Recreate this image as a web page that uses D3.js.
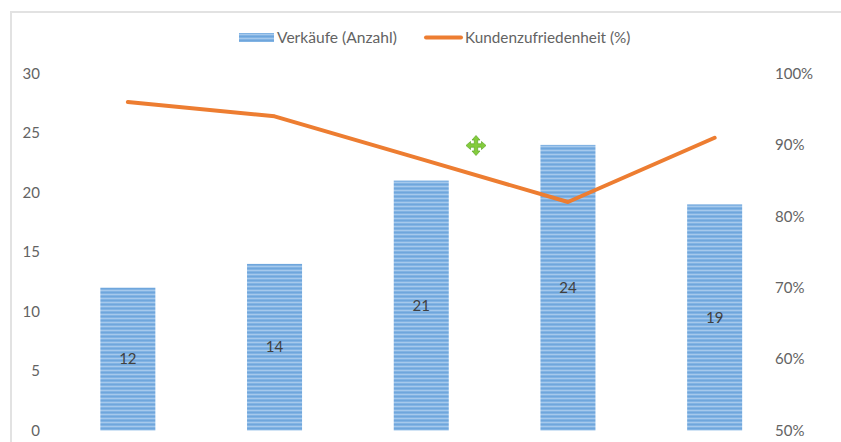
<!DOCTYPE html>
<html>
<head>
<meta charset="utf-8">
<title>Verkäufe und Kundenzufriedenheit</title>
<script src="https://d3js.org/d3.v7.min.js"></script>
<style>
  html, body { margin: 0; padding: 0; background: #fff; overflow: hidden; }
  text { font-family: Lato, "Open Sans", sans-serif; fill: #636363; }
</style>
</head>
<body>
<script>
var categories = ["A", "B", "C", "D", "E"];
var verkaeufe = [12, 14, 21, 24, 19];
var zufriedenheit = [96, 94, 88, 82, 91];
var leftTicks = [0, 5, 10, 15, 20, 25, 30];
var rightTicks = [50, 60, 70, 80, 90, 100];

var width = 841, height = 442;
var plot = {top: 73.5, bottom: 430.5, left: 54.5, right: 788};

var svg = d3.select("body").append("svg")
    .attr("width", width)
    .attr("height", height);

// striped fill of the bars
var pattern = svg.append("defs").append("pattern")
    .attr("id", "stripes")
    .attr("patternUnits", "userSpaceOnUse")
    .attr("width", 8)
    .attr("height", 4);
pattern.append("rect").attr("width", 8).attr("height", 4).attr("fill", "#82b3e3");
pattern.append("rect").attr("y", 0).attr("width", 8).attr("height", 1).attr("fill", "#6fa6dc");
pattern.append("rect").attr("y", 2).attr("width", 8).attr("height", 1).attr("fill", "#a6c9ec");

// chart frame, only top and left show in the crop
svg.append("path")
    .attr("d", "M11,442V12H841")
    .attr("fill", "none")
    .attr("stroke", "#e2e2e2")
    .attr("stroke-width", 2);

var x = d3.scaleBand().domain(categories).range([plot.left, plot.right]).paddingInner(0.625).paddingOuter(0.3125);
var yLeft = d3.scaleLinear().domain([0, 30]).range([plot.bottom, plot.top]);
var yRight = d3.scaleLinear().domain([50, 100]).range([plot.bottom, plot.top]);

var leftAxis = d3.axisLeft(yLeft).tickValues(leftTicks).tickSize(0).tickPadding(0);
var rightAxis = d3.axisRight(yRight).tickValues(rightTicks).tickSize(0).tickPadding(0)
    .tickFormat(function(d) { return d + "%"; });

var gLeft = svg.append("g").attr("transform", "translate(40,0)").call(leftAxis);
var gRight = svg.append("g").attr("transform", "translate(775,0)").call(rightAxis);
gLeft.select(".domain").remove();
gRight.select(".domain").remove();
svg.selectAll(".tick text").style("font-size", "15px").attr("font-family", null);

svg.selectAll(".bar")
    .data(verkaeufe)
    .enter().append("rect")
    .attr("class", "bar")
    .attr("x", function(d, i) { return x(categories[i]); })
    .attr("width", x.bandwidth())
    .attr("y", function(d) { return yLeft(d); })
    .attr("height", function(d) { return plot.bottom - yLeft(d); })
    .attr("fill", "url(#stripes)");

svg.selectAll(".bar-label")
    .data(verkaeufe)
    .enter().append("text")
    .attr("class", "bar-label")
    .attr("x", function(d, i) { return x(categories[i]) + x.bandwidth() / 2; })
    .attr("y", function(d) { return yLeft(d / 2); })
    .attr("dy", "0.35em")
    .attr("text-anchor", "middle")
    .style("font-size", "15px")
    .style("fill", "#404040")
    .text(function(d) { return d; });

var line = d3.line()
    .x(function(d, i) { return x(categories[i]) + x.bandwidth() / 2; })
    .y(function(d) { return yRight(d); });

svg.append("path")
    .datum(zufriedenheit)
    .attr("d", line)
    .attr("fill", "none")
    .attr("stroke", "#ed7d31")
    .attr("stroke-width", 4)
    .attr("stroke-linecap", "round")
    .attr("stroke-linejoin", "round");

// legend
svg.append("rect").attr("x", 239).attr("y", 33).attr("width", 35).attr("height", 9).attr("fill", "url(#stripes)");
svg.append("text").attr("x", 277).attr("y", 43).style("font-size", "15.6px").text("Verkäufe (Anzahl)");
svg.append("line").attr("x1", 426).attr("x2", 461).attr("y1", 37.5).attr("y2", 37.5)
    .attr("stroke", "#ed7d31").attr("stroke-width", 4).attr("stroke-linecap", "round");
svg.append("text").attr("x", 465).attr("y", 43).style("font-size", "15.3px").text("Kundenzufriedenheit (%)");

// green move cursor from the screenshot
var cursor = svg.append("g").attr("transform", "translate(476,145.5)");
cursor.append("path")
    .attr("d", "M0,-10L4,-5.5H1.7V-1.7H5.5V-4L10,0L5.5,4V1.7H1.7V5.5H4L0,10L-4,5.5H-1.7V1.7H-5.5V4L-10,0L-5.5,-4V-1.7H-1.7V-5.5H-4Z")
    .attr("fill", "#84cc3d")
    .attr("stroke", "#5fa826")
    .attr("stroke-width", 0.7);
</script>
</body>
</html>
